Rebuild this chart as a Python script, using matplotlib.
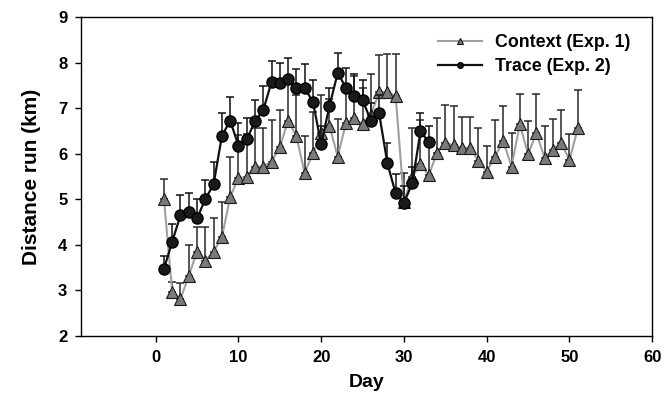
import numpy as np
import matplotlib
matplotlib.use("Agg")
import matplotlib.pyplot as plt

plt.rcParams['font.family'] = ['Liberation Sans', 'DejaVu Sans']
plt.rcParams['font.weight'] = 'bold'

# Context (Exp. 1): days 1-51
context_days = np.arange(1, 52)
context_mean = [5.00, 2.97, 2.81, 3.32, 3.85, 3.65, 3.85, 4.16, 5.05, 5.47,
                5.48, 5.72, 5.72, 5.83, 6.14, 6.73, 6.39, 5.58, 6.01, 6.45,
                6.61, 5.94, 6.68, 6.78, 6.65, 6.85, 7.36, 7.36, 7.27, 4.95,
                5.50, 5.77, 5.53, 6.02, 6.23, 6.19, 6.13, 6.13, 5.84, 5.61,
                5.94, 6.28, 5.72, 6.65, 5.99, 6.45, 5.91, 6.08, 6.24, 5.86,
                6.56]
context_sem = [0.44, 0.22, 0.34, 0.68, 0.55, 0.75, 0.73, 0.79, 0.89, 0.95,
               0.95, 0.84, 0.84, 0.91, 0.82, 0.87, 0.91, 0.82, 0.91, 0.84,
               0.59, 0.82, 0.82, 0.92, 0.79, 0.90, 0.81, 0.83, 0.92, 0.63,
               1.06, 0.97, 0.77, 0.77, 0.84, 0.85, 0.68, 0.67, 0.72, 0.55,
               0.80, 0.78, 0.73, 0.66, 0.73, 0.86, 0.69, 0.68, 0.72, 0.57,
               0.84]

# Trace (Exp. 2): days 1-33
trace_days = np.arange(1, 34)
trace_mean = [3.47, 4.07, 4.65, 4.73, 4.58, 5.00, 5.33, 6.39, 6.73, 6.18,
              6.32, 6.71, 6.96, 7.58, 7.55, 7.64, 7.44, 7.45, 7.14, 6.21,
              7.05, 7.78, 7.45, 7.28, 7.18, 6.73, 6.89, 5.79, 5.13, 4.92,
              5.35, 6.49, 6.26]
trace_sem = [0.29, 0.39, 0.44, 0.40, 0.42, 0.42, 0.48, 0.50, 0.51, 0.49,
             0.46, 0.47, 0.53, 0.47, 0.44, 0.46, 0.42, 0.52, 0.48, 0.39,
             0.39, 0.43, 0.44, 0.48, 0.44, 0.39, 0.41, 0.45, 0.43, 0.38,
             0.37, 0.41, 0.35]

fig = plt.figure(figsize=(6.71, 4.03), dpi=100)
ax = fig.add_axes([0.121, 0.167, 0.851, 0.790])

# upper error bars only
ax.errorbar(context_days, context_mean,
            yerr=[np.zeros(len(context_sem)), context_sem],
            fmt='none', ecolor='#2a2a2a', elinewidth=1.1, capsize=3.2,
            capthick=1.1, zorder=1)
ax.plot(context_days, context_mean, color='#a0a0a0', lw=1.5, marker='^',
        markersize=8, markerfacecolor='#7a7a7a', markeredgecolor='#1a1a1a',
        markeredgewidth=0.8, label='Context (Exp. 1)', zorder=2)

ax.errorbar(trace_days, trace_mean,
            yerr=[np.zeros(len(trace_sem)), trace_sem],
            fmt='none', ecolor='#111111', elinewidth=1.1, capsize=3.2,
            capthick=1.1, zorder=3)
ax.plot(trace_days, trace_mean, color='#111111', lw=1.6, marker='o',
        markersize=8, markerfacecolor='#1a1a1a', markeredgecolor='#000000',
        label='Trace (Exp. 2)', zorder=4)

ax.set_xlim(-9, 60)
ax.set_ylim(2, 9)
ax.set_xticks(range(0, 61, 10))
ax.set_yticks(range(2, 10))
ax.tick_params(direction='out', length=4, width=1, labelsize=12, pad=6)
for lab in ax.get_xticklabels() + ax.get_yticklabels():
    lab.set_fontweight('bold')
for s in ax.spines.values():
    s.set_linewidth(1)

ax.set_xlabel('Day', fontsize=14, fontweight='bold', labelpad=7)
ax.set_ylabel('Distance run (km)', fontsize=15, fontweight='bold', labelpad=12)

leg = ax.legend(loc='upper right', bbox_to_anchor=(0.988, 0.995), frameon=False,
                handlelength=2.5, markerscale=0.5, borderaxespad=0.45,
                handletextpad=0.7, labelspacing=0.42,
                prop={'weight': 'bold', 'size': 12.8})

fig.savefig('out.png', dpi=100)
